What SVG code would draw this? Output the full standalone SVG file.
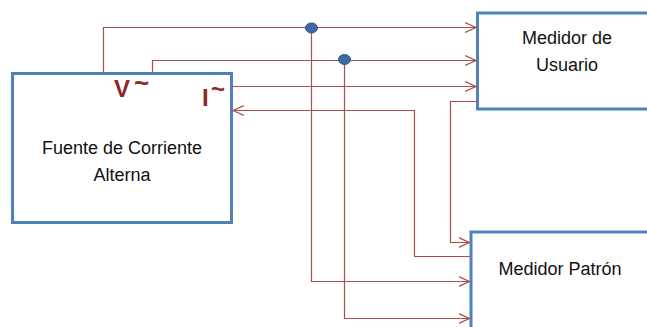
<svg xmlns="http://www.w3.org/2000/svg" width="647" height="327" viewBox="0 0 647 327">
<style>
.box{fill:#fff;stroke:#4f81bd;stroke-width:3}
.w{fill:none;stroke:#a8504e;stroke-width:1.2}
.lbl{font-family:"Liberation Sans",Arial,sans-serif;font-size:18px;fill:#111;text-anchor:middle}
.sym{font-family:"Liberation Sans",Arial,sans-serif;font-weight:bold;fill:#8b2a26}
.dot{fill:#3c6aa3;stroke:#2d5585;stroke-width:1}
</style>
<defs>
<marker id="arr" markerUnits="userSpaceOnUse" markerWidth="14" markerHeight="14" refX="11" refY="6" orient="auto">
<path d="M0,1 L11,6 L0,11" fill="none" stroke="#a8504e" stroke-width="1.2"/>
</marker>
</defs>
<g id="fuente">
<rect class="box" x="12.5" y="73.5" width="219" height="149"/>
<text class="lbl" x="122" y="154">Fuente de Corriente</text>
<text class="lbl" x="122" y="181">Alterna</text>
<text class="sym" x="114" y="97" font-size="24">V</text>
<text class="sym" x="134" y="92" font-size="26">~</text>
<text class="sym" x="202" y="106" font-size="24">I</text>
<text class="sym" x="211" y="97" font-size="24">~</text>
</g>
<g id="usuario">
<rect class="box" x="477.5" y="13" width="190" height="96"/>
<text class="lbl" x="567" y="44">Medidor de</text>
<text class="lbl" x="567" y="71">Usuario</text>
</g>
<g id="patron">
<rect class="box" x="471" y="232" width="200" height="120"/>
<text class="lbl" x="560" y="275">Medidor Patrón</text>
</g>
<g id="connectors">
<path class="w" d="M103.5,73 V27.5 H476" marker-end="url(#arr)"/>
<path class="w" d="M152.5,73 V60.5 H476" marker-end="url(#arr)"/>
<path class="w" d="M232,86.5 H476" marker-end="url(#arr)"/>
<path class="w" d="M470,256.5 H414.5 V110.5 H233" marker-end="url(#arr)"/>
<path class="w" d="M477,101.5 H450.5 V242.5 H469.5" marker-end="url(#arr)"/>
<path class="w" d="M311.5,28 V281.5 H469.5" marker-end="url(#arr)"/>
<path class="w" d="M344.5,60 V318.5 H469.5" marker-end="url(#arr)"/>
<ellipse class="dot" cx="311.5" cy="28" rx="6" ry="5"/>
<ellipse class="dot" cx="344.5" cy="59.5" rx="6" ry="5"/>
</g>
</svg>
